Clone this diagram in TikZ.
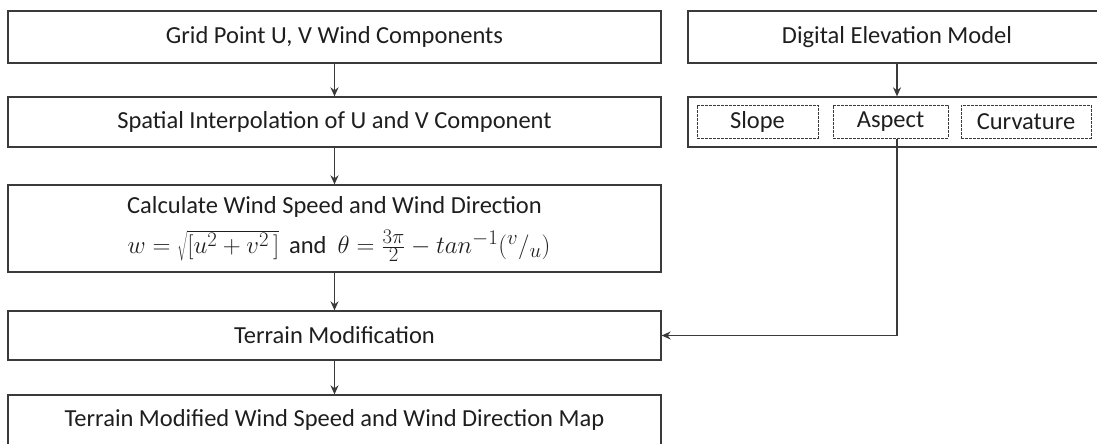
\documentclass[tikz,border=0pt]{standalone}
\usepackage{fontspec}
\setmainfont{Carlito}
\usetikzlibrary{arrows.meta}
\definecolor{linegray}{HTML}{3A3A3A}
\definecolor{txt}{HTML}{1E1E1E}
\newcommand{\bigmath}[1]{{\fontsize{30.5}{36}\selectfont$#1$}}
\begin{document}
\begin{tikzpicture}[x=1pt,y=1pt,
  box/.style={draw=linegray, line width=1.3pt, rectangle, minimum height=#1, inner sep=0pt, font=\fontsize{24.5}{29}\selectfont, text=txt},
  lbox/.style={box=#1, minimum width=653pt},
  rbox/.style={box=#1, minimum width=418pt},
  dbox/.style={draw=linegray, line width=1pt, dash pattern=on 2.6pt off 1.4pt, rectangle, minimum height=33pt, inner sep=0pt, font=\fontsize{24.5}{29}\selectfont, text=txt},
  lbl/.style={font=\fontsize{24.5}{29}\selectfont, text=txt, inner sep=0pt},
  arr/.style={draw=linegray, line width=1.3pt, -{Stealth[length=9pt,width=8pt]}}]
\useasboundingbox (0,0) rectangle (1097,-444);
\clip (0,0) rectangle (1097,-444);
\node[lbox=52pt] (b1) at (334.5,-37) {Grid Point U, V Wind Components};
\node[lbox=87pt] (b3) at (334.5,-228.5) {};
\node[lbl] (b3t) at (334.5,-207) {Calculate Wind Speed and Wind Direction};
\node[lbl] (b3m) at (339,-246) {\bigmath{w=\sqrt{[u^2+v^2\,]}\,} and\ \ \bigmath{\theta=\frac{3\pi}{2}-tan^{-1}({}^{v}/{}_{u})}};
\node[lbox=50pt] (b2) at (334.5,-122) {Spatial Interpolation of U and V Component};
\node[lbox=49pt] (b4) at (334.5,-335.5) {Terrain Modification};
\node[lbox=50pt] (b5) at (334.5,-420) {Terrain Modified Wind Speed and Wind Direction Map};
\node[rbox=52pt] (dem) at (897,-37) {Digital Elevation Model};
\node[rbox=50pt] (grp) at (897,-122) {};
\node[dbox, minimum width=121pt] (slope) at (757.5,-121.5) {Slope};
\node[dbox, minimum width=115pt] (aspect) at (890.5,-121.5) {Aspect};
\node[dbox, minimum width=130pt] (curv) at (1026,-121.5) {Curvature};
\draw[arr] (b1) -- (b2);
\draw[arr] (b2) -- (b3);
\draw[arr] (b3) -- (b4);
\draw[arr] (b4) -- (b5);
\draw[arr] (dem) -- (grp);
\coordinate (asx) at (aspect.south -| dem.south);
\draw[arr] (asx) |- (b4.east);
\end{tikzpicture}
\end{document}
